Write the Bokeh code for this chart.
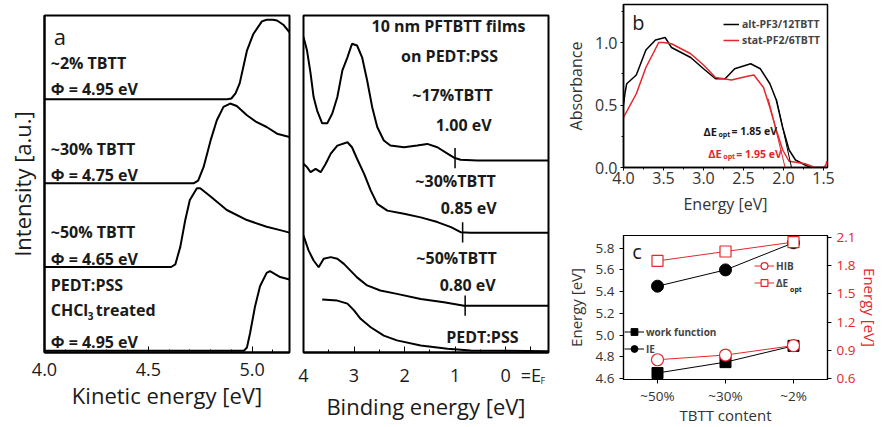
import numpy as np
from bokeh.plotting import figure
from bokeh.models import (Range1d, LinearAxis, Label, Legend, LegendItem, FactorRange,
                          FixedTicker, SingleIntervalTicker, PrintfTickFormatter)
from bokeh.layouts import row, column
from bokeh.embed import file_html
from bokeh.resources import INLINE

FONT = "Open Sans"
RED = "#e5262b"
INK = "#1a1a1a"

# ---------------- Panel a : secondary-electron cut-off (normalised) ----------------
ke_2pct = [4.00, 4.88, 4.90, 4.92, 4.94, 4.975, 5.006, 5.047, 5.07, 5.10, 5.12, 5.15, 5.18]
int_2pct = [0.00, 0.00, 0.01, 0.07, 0.19, 0.58, 0.78, 0.93, 0.95, 0.95, 0.94, 0.89, 0.80]
ke_30pct = [4.00, 4.72, 4.74, 4.766, 4.80, 4.83, 4.862, 4.894, 4.926, 4.975, 5.02, 5.07, 5.12, 5.18]
int_30pct = [0.00, 0.00, 0.03, 0.19, 0.51, 0.75, 0.91, 0.95, 0.92, 0.81, 0.73, 0.67, 0.59, 0.55]
ke_50pct = [4.00, 4.61, 4.63, 4.654, 4.678, 4.70, 4.734, 4.75, 4.80, 4.878, 4.975, 5.07, 5.135, 5.18]
int_50pct = [0.00, 0.00, 0.03, 0.24, 0.56, 0.80, 0.94, 0.94, 0.84, 0.68, 0.56, 0.48, 0.44, 0.41]
ke_pedot = [4.00, 4.96, 4.975, 4.99, 5.014, 5.038, 5.07, 5.086, 5.135, 5.18]
int_pedot = [0.00, 0.00, 0.04, 0.21, 0.53, 0.77, 0.93, 0.95, 0.88, 0.85]
wf_labels = ["Φ = 4.95 eV", "Φ = 4.75 eV", "Φ = 4.65 eV", "Φ = 4.95 eV"]
sample_labels = ["~2% TBTT", "~30% TBTT", "~50% TBTT", "PEDT:PSS"]

# ---------------- Panel a2 : valence region (binding energy) ----------------
be_17 = [4.00, 3.93, 3.86, 3.80, 3.73, 3.63, 3.53, 3.43, 3.33, 3.23, 3.13, 3.04, 2.94, 2.84,
         2.74, 2.64, 2.54, 2.41, 2.28, 2.01, 1.75, 1.55, 1.35, 1.15, 1.02, 0.89, 0.56, -0.85]
int_17 = [9.36, 8.96, 8.28, 7.58, 7.18, 6.80, 6.80, 7.09, 7.58, 8.37, 8.76, 9.16, 9.11, 8.76,
          8.07, 7.28, 6.69, 6.29, 6.14, 6.09, 6.14, 6.19, 6.09, 5.90, 5.78, 5.72, 5.70, 5.70]
be_30 = [4.00, 3.93, 3.86, 3.76, 3.66, 3.56, 3.46, 3.33, 3.13, 3.04, 2.94, 2.80, 2.67, 2.54,
         2.34, 2.01, 1.68, 1.35, 1.08, 0.89, 0.69, -0.85]
int_30 = [5.60, 5.50, 5.35, 5.45, 5.35, 5.60, 5.90, 6.14, 6.24, 6.09, 5.75, 5.30, 4.81, 4.41,
          4.21, 4.12, 4.01, 3.87, 3.72, 3.57, 3.55, 3.55]
be_50 = [4.00, 3.90, 3.80, 3.70, 3.60, 3.46, 3.33, 3.20, 3.07, 2.94, 2.74, 2.48, 2.15, 1.68,
         1.22, 0.82, -0.85]
int_50 = [3.47, 3.03, 2.73, 2.53, 2.78, 2.83, 2.78, 2.63, 2.43, 2.23, 1.99, 1.84, 1.74, 1.59,
          1.49, 1.39, 1.39]
be_pss = [3.63, 3.33, 3.13, 3.00, 2.87, 2.67, 2.41, 2.15, 1.68, 1.15, 0.69, -0.85]
int_pss = [1.57, 1.54, 1.45, 1.25, 1.00, 0.75, 0.50, 0.36, 0.21, 0.11, 0.06, 0.04]
hib_onsets = [1.00, 0.85, 0.80]
hib_labels = ["1.00 eV", "0.85 eV", "0.80 eV"]
vb_labels = ["~17%TBTT", "~30%TBTT", "~50%TBTT"]
be_ticks = [4, 3, 2, 1, 0]

# ---------------- Panel b : absorbance ----------------
e_alt = [4.00, 3.98, 3.96, 3.84, 3.72, 3.60, 3.48, 3.40, 3.16, 3.00, 2.85, 2.73, 2.61, 2.41,
         2.29, 2.17, 2.09, 2.01, 1.93, 1.85, 1.73, 1.66, 1.45]
abs_alt = [0.50, 0.60, 0.67, 0.74, 0.94, 1.02, 1.04, 0.96, 0.88, 0.79, 0.71, 0.71, 0.79, 0.83,
           0.79, 0.67, 0.54, 0.32, 0.14, 0.06, 0.02, 0.00, 0.00]
e_stat = [4.00, 3.84, 3.72, 3.56, 3.50, 3.40, 3.16, 3.00, 2.85, 2.65, 2.45, 2.37, 2.25, 2.17,
          2.09, 2.01, 1.93, 1.73, 1.61, 1.50, 1.47, 1.46, 1.45]
abs_stat = [0.40, 0.59, 0.80, 1.00, 1.00, 0.99, 0.91, 0.82, 0.72, 0.70, 0.73, 0.74, 0.64, 0.48,
            0.30, 0.14, 0.05, 0.03, 0.00, 0.00, 0.02, 0.05, 0.03]
tan_alt_e = [2.09, 1.90]
tan_alt_a = [0.55, 0.00]
tan_stat_e = [2.19, 1.98]
tan_stat_a = [0.55, 0.00]

# ---------------- Panel c : energies vs TBTT content ----------------
tbtt = ["~50%", "~30%", "~2%"]
work_function = [4.65, 4.75, 4.90]
ionisation_energy = [5.45, 5.60, 5.85]
hib = [0.80, 0.85, 0.95]
de_opt = [1.85, 1.95, 2.05]


def style_axis(ax, tick_px, label_px, color=INK):
    ax.major_label_text_font = FONT
    ax.major_label_text_font_size = f"{tick_px}px"
    ax.major_label_text_color = color
    ax.axis_label_text_font = FONT
    ax.axis_label_text_font_size = f"{label_px}px"
    ax.axis_label_text_font_style = "normal"
    ax.axis_label_text_color = color


def lab(p, x, y, text, size, bold=True, align="left", color=INK, **kw):
    p.add_layout(Label(x=x, y=y, text=text, text_font=FONT, text_font_size=f"{size}px",
                       text_font_style="bold" if bold else "normal", text_align=align,
                       text_baseline="middle", text_color=color, **kw))


# ======================= figure a =======================
pa = figure(width=296, height=427, x_range=Range1d(4.0, 5.18), y_range=Range1d(-0.02, 4.0),
            output_backend="svg", toolbar_location=None,
            min_border_left=44, min_border_right=7, min_border_top=15, min_border_bottom=75)
pa.grid.visible = False
pa.outline_line_color = "black"
pa.outline_line_width = 2
traces_a = [(ke_2pct, int_2pct), (ke_30pct, int_30pct), (ke_50pct, int_50pct), (ke_pedot, int_pedot)]
for k, (ke, it) in enumerate(traces_a):
    off = 3 - k
    pa.line(ke, np.array(it) + off, line_color="black", line_width=2)

pa.xaxis.ticker = SingleIntervalTicker(interval=0.5, num_minor_ticks=5)
pa.xaxis.formatter = PrintfTickFormatter(format="%.1f")
pa.xaxis.major_tick_in = 6
pa.xaxis.major_tick_out = 0
pa.xaxis.minor_tick_in = 3
pa.xaxis.minor_tick_out = 0
pa.xaxis.axis_line_width = 2
pa.xaxis.major_label_standoff = 10
pa.xaxis.axis_label = "Kinetic energy [eV]"
pa.xaxis.axis_label_standoff = 1
style_axis(pa.xaxis[0], 18, 22)
pa.yaxis.ticker = FixedTicker(ticks=[])
pa.yaxis.major_label_standoff = 0
pa.yaxis.axis_label = "Intensity [a.u.]"
pa.yaxis.axis_label_standoff = 8
pa.yaxis.axis_line_width = 2
style_axis(pa.yaxis[0], 18, 22)

lab(pa, 4.045, 3.76, "a", 22, bold=False)
sample_y = [3.43, 2.41, 1.42, 0.78]
wf_y = [3.12, 2.10, 1.10, 0.10]
for s, ys in zip(sample_labels, sample_y):
    lab(pa, 4.03, ys, s, 16)
for s, ys in zip(wf_labels, wf_y):
    lab(pa, 4.03, ys, s, 16)
lab(pa, 4.03, 0.49, "CHCl", 16)
lab(pa, 4.03, 0.49, "3", 10, x_offset=37, y_offset=-6)
lab(pa, 4.03, 0.49, "treated", 16, x_offset=45)

# ======================= figure a2 (binding energy) =======================
pv = figure(width=264, height=427, x_range=Range1d(4.0, -0.85), y_range=Range1d(0, 10),
            output_backend="svg", toolbar_location=None,
            min_border_left=7, min_border_right=12, min_border_top=15, min_border_bottom=75)
pv.grid.visible = False
pv.outline_line_color = "black"
pv.outline_line_width = 2
vb_traces = [(be_17, int_17), (be_30, int_30), (be_50, int_50), (be_pss, int_pss)]
for be, it in vb_traces:
    pv.line(be, it, line_color="black", line_width=2)
for (be, it), on in zip(vb_traces[:3], hib_onsets):
    yc = float(np.interp(on, be[::-1], it[::-1]))
    pv.segment(x0=[on], y0=[yc - 0.3], x1=[on], y1=[yc + 0.3], line_color="black", line_width=1.5)

pv.yaxis.visible = False
pv.xaxis.ticker = FixedTicker(ticks=be_ticks + [-0.5], minor_ticks=[3.5, 2.5, 1.5, 0.5])
pv.xaxis.major_label_overrides = {-0.5: "=E"}
pv.xaxis.major_tick_in = 6
pv.xaxis.major_tick_out = 0
pv.xaxis.minor_tick_in = 3
pv.xaxis.minor_tick_out = 0
pv.xaxis.axis_line_width = 2
pv.xaxis.major_label_standoff = 10
pv.xaxis.axis_label = "Binding energy [eV]"
pv.xaxis.axis_label_standoff = 1
style_axis(pv.xaxis[0], 18, 22)
# subscript "F" of E_F, drawn as a second (line-less) axis pulled up next to "=E"
sub_ax = LinearAxis(ticker=FixedTicker(ticks=[-0.74]), major_label_overrides={-0.74: "F"},
                    major_label_text_font=FONT, major_label_text_font_size="9px",
                    major_label_text_color=INK, major_tick_in=0, major_tick_out=0,
                    minor_tick_in=0, minor_tick_out=0, axis_line_color=None,
                    major_label_standoff=-50)
pv.add_layout(sub_ax, "below")

lab(pv, 1.13, 9.70, "10 nm PFTBTT films", 16, align="center")
lab(pv, 1.11, 8.81, "on PEDT:PSS", 16, align="center")
vb_y = [7.63, 5.10, 2.79]
vb_x = [1.05, 0.99, 0.97]
hib_y = [6.74, 4.30, 1.99]
hib_x = [0.83, 0.73, 0.75]
for s, xx, yy in zip(vb_labels, vb_x, vb_y):
    lab(pv, xx, yy, s, 16, align="center")
for s, xx, yy in zip(hib_labels, hib_x, hib_y):
    lab(pv, xx, yy, s, 16, align="center")
lab(pv, 0.46, 0.45, "PEDT:PSS", 16, align="center")

# ======================= figure b (absorbance) =======================
pb = figure(width=323, height=220, x_range=Range1d(4.0, 1.45), y_range=Range1d(0, 1.304),
            output_backend="svg", toolbar_location=None,
            min_border_left=63, min_border_right=46, min_border_top=4, min_border_bottom=53)
pb.grid.visible = False
pb.outline_line_color = "black"
pb.outline_line_width = 1.5
r_alt = pb.line(e_alt, abs_alt, line_color="black", line_width=1.5)
r_stat = pb.line(e_stat, abs_stat, line_color=RED, line_width=1.5)
pb.line(tan_alt_e, tan_alt_a, line_color="black", line_width=1)
pb.line(tan_stat_e, tan_stat_a, line_color=RED, line_width=1)
pb.xaxis.ticker = SingleIntervalTicker(interval=0.5, num_minor_ticks=2)
pb.xaxis.formatter = PrintfTickFormatter(format="%.1f")
pb.yaxis.ticker = SingleIntervalTicker(interval=0.5, num_minor_ticks=2)
pb.yaxis.formatter = PrintfTickFormatter(format="%.1f")
for ax in (pb.xaxis[0], pb.yaxis[0]):
    ax.major_tick_in = 0
    ax.major_tick_out = 3
    ax.minor_tick_in = 0
    ax.minor_tick_out = 2
    ax.axis_line_width = 1.5
    style_axis(ax, 16, 16, color="#333333")
pb.xaxis.major_label_standoff = 1
pb.xaxis.axis_label_standoff = 6
pb.yaxis.major_label_standoff = 3
pb.yaxis.axis_label_standoff = 5
pb.xaxis.axis_label = "Energy [eV]"
pb.yaxis.axis_label = "Absorbance"
leg_b = Legend(items=[LegendItem(label="alt-PF3/12TBTT", renderers=[r_alt]),
                      LegendItem(label="stat-PF2/6TBTT", renderers=[r_stat])],
               location=(100, 119), border_line_color=None, background_fill_alpha=0,
               label_text_font=FONT, label_text_font_size="10.5px", label_text_font_style="bold",
               glyph_width=16, glyph_height=16, label_height=16, spacing=0, padding=3, margin=0,
               label_standoff=3)
pb.add_layout(leg_b)
lab(pb, 3.89, 1.16, "b", 20, bold=False)
lab(pb, 3.00, 0.29, "ΔE", 11)
lab(pb, 3.00, 0.29, "opt", 7, x_offset=15, y_offset=-3)
lab(pb, 3.00, 0.29, "= 1.85 eV", 10.5, x_offset=28)
lab(pb, 2.94, 0.11, "ΔE", 11, color=RED)
lab(pb, 2.94, 0.11, "opt", 7, x_offset=15, y_offset=-3, color=RED)
lab(pb, 2.94, 0.11, "= 1.95 eV", 10.5, x_offset=28, color=RED)

# ======================= figure c =======================
pc = figure(width=323, height=207, x_range=FactorRange(factors=tbtt), y_range=Range1d(4.59, 5.917),
            output_backend="svg", toolbar_location=None,
            min_border_left=63, min_border_right=56, min_border_top=15, min_border_bottom=45)
pc.grid.visible = False
pc.outline_line_color = "black"
pc.outline_line_width = 1.2
pc.extra_y_ranges = {"right": Range1d(0.59, 2.12)}
l_wf = pc.line(tbtt, work_function, line_color="black", line_width=1)
s_wf = pc.scatter(tbtt, work_function, marker="square", size=11, fill_color="black", line_color="black")
l_ie = pc.line(tbtt, ionisation_energy, line_color="black", line_width=1)
s_ie = pc.scatter(tbtt, ionisation_energy, marker="circle", size=12, fill_color="black", line_color="black")
l_hib = pc.line(tbtt, hib, line_color=RED, line_width=1, y_range_name="right")
s_hib = pc.scatter(tbtt, hib, marker="circle", size=12, fill_color="white", line_color=RED,
                   line_width=1.2, y_range_name="right")
l_de = pc.line(tbtt, de_opt, line_color=RED, line_width=1, y_range_name="right")
s_de = pc.scatter(tbtt, de_opt, marker="square", size=11, fill_color="white", line_color=RED,
                  line_width=1.2, y_range_name="right")

pc.yaxis.ticker = FixedTicker(ticks=[4.6, 4.8, 5.0, 5.2, 5.4, 5.6, 5.8])
pc.yaxis.formatter = PrintfTickFormatter(format="%.1f")
pc.yaxis.axis_label = "Energy [eV]"
right_c = LinearAxis(y_range_name="right", ticker=FixedTicker(ticks=[0.6, 0.9, 1.2, 1.5, 1.8, 2.1]),
                     formatter=PrintfTickFormatter(format="%.1f"), axis_label="Energy [eV]")
pc.add_layout(right_c, "right")
for ax in (pc.xaxis[0], pc.yaxis[0], right_c):
    ax.major_tick_in = 0
    ax.major_tick_out = 4
    ax.minor_tick_in = 0
    ax.minor_tick_out = 0
    ax.axis_line_width = 1.2
    style_axis(ax, 13.5, 15, color="#333333")
style_axis(right_c, 13.5, 15, color=RED)
pc.yaxis.major_label_standoff = 5
pc.yaxis.axis_label_standoff = 7
right_c.major_label_standoff = 5
right_c.axis_label_standoff = 2
pc.xaxis.axis_label = "TBTT content"
pc.xaxis.major_label_standoff = 3
pc.xaxis.axis_label_standoff = -3

leg_k = Legend(items=[LegendItem(label="work function", renderers=[l_wf, s_wf]),
                      LegendItem(label="IE", renderers=[l_ie, s_ie])],
               location=(1, 22), border_line_color=None, background_fill_alpha=0,
               label_text_font=FONT, label_text_font_size="10px", label_text_font_style="bold",
               glyph_width=20, glyph_height=17, label_height=16, spacing=0, padding=3, margin=0,
               label_standoff=2)
leg_r = Legend(items=[LegendItem(label="HIB", renderers=[l_hib, s_hib]),
                      LegendItem(label="ΔE", renderers=[l_de, s_de])],
               location=(131, 88), border_line_color=None, background_fill_alpha=0,
               label_text_font=FONT, label_text_font_size="10px", label_text_font_style="bold",
               glyph_width=20, glyph_height=17, label_height=16, spacing=0, padding=3, margin=0,
               label_standoff=2)
pc.add_layout(leg_k)
pc.add_layout(leg_r)
lab(pc, 0.13, 5.773, "c", 20, bold=False)
lab(pc, 2.45, 1.55, "opt", 7, y_range_name="right")

layout = row(pa, pv, column(pb, pc))
open("out.html", "w").write(file_html(layout, INLINE, title="PFTBTT"))
